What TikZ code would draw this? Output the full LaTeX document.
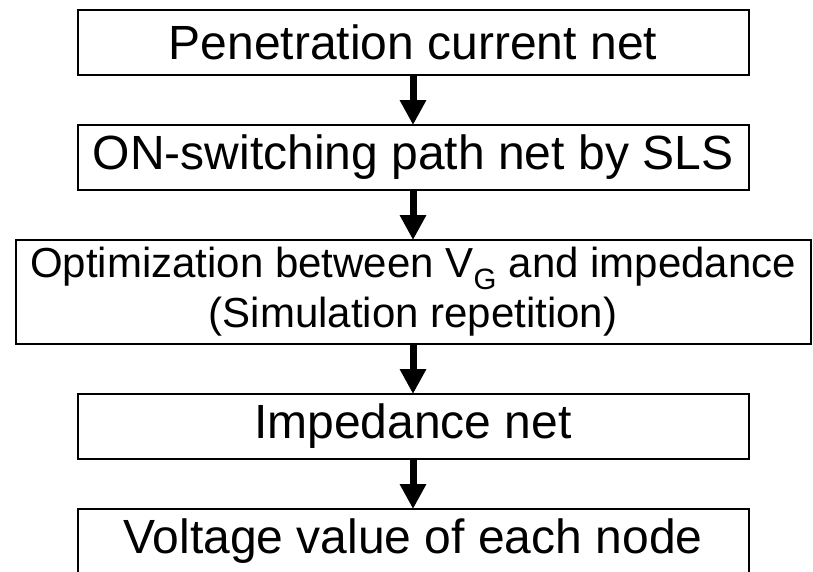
\documentclass[tikz,border=0pt]{standalone}
\usepackage{fontspec}
\setmainfont{Liberation Sans}
\usepackage{tikz}
\usetikzlibrary{arrows.meta, positioning}

\begin{document}
\begin{tikzpicture}[
        x=1pt, y=1pt,
        node distance=50pt,
        stepbox/.style={rectangle, draw, line width=2pt, outer sep=0pt, inner sep=0pt, minimum width=671pt, minimum height=65pt, font=\fontsize{48}{50}\selectfont},
        widebox/.style={stepbox, minimum width=795pt, minimum height=104pt, align=center, font=\fontsize{42}{50}\selectfont},
        arrow/.style={-{Triangle[width=25pt,length=25pt]}, line width=7pt}
    ]
    \useasboundingbox (0,0) rectangle (813,-571);

    % steps
    \node[stepbox] (pen) at (413,-42.5) {Penetration current net};
    \node[stepbox, below=of pen] (onsw) {ON-switching path net by SLS};
    \node[widebox, below=of onsw] (opt) {Optimization between V\textsubscript{G} and impedance\\(Simulation repetition)};
    \node[stepbox, below=of opt] (imp) {Impedance net};
    \node[stepbox, below=of imp] (volt) {Voltage value of each node};

    % arrows
    \draw[arrow] (pen) -- (onsw);
    \draw[arrow] (onsw) -- (opt);
    \draw[arrow] (opt) -- (imp);
    \draw[arrow] (imp) -- (volt);

\end{tikzpicture}
\end{document}
